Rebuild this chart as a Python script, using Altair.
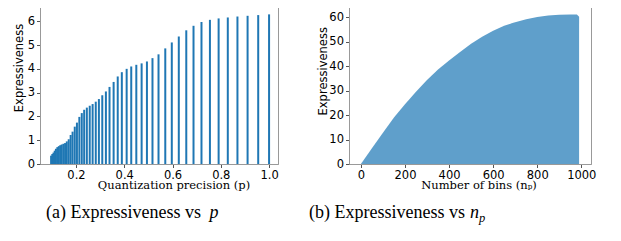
import altair as alt
import pandas as pd

# ---- panel (a): expressiveness vs quantization precision p ----
p_vals = [1.0, 0.955, 0.911, 0.869, 0.829, 0.791, 0.755, 0.72, 0.687, 0.657,
          0.626, 0.597, 0.570, 0.542, 0.517, 0.494, 0.472, 0.45, 0.429, 0.41,
          0.39, 0.373, 0.356, 0.339, 0.324, 0.309, 0.295, 0.282, 0.269, 0.257,
          0.245, 0.234, 0.224, 0.214, 0.204, 0.195, 0.186, 0.178, 0.170, 0.162,
          0.155, 0.148, 0.141, 0.135, 0.129, 0.123, 0.117, 0.112, 0.107, 0.102,
          0.097]
expr_a = [6.29, 6.26, 6.23, 6.20, 6.16, 6.12, 6.06, 5.97, 5.81, 5.62,
          5.36, 5.11, 4.86, 4.61, 4.45, 4.31, 4.23, 4.17, 4.10, 4.00,
          3.86, 3.68, 3.45, 3.24, 3.05, 2.89, 2.73, 2.62, 2.52, 2.45,
          2.37, 2.28, 2.14, 1.98, 1.74, 1.57, 1.36, 1.22, 1.04, 0.95,
          0.88, 0.85, 0.82, 0.79, 0.75, 0.71, 0.64, 0.56, 0.48, 0.42,
          0.35]

# ---- panel (b): expressiveness vs number of bins ----
bins = [0, 50, 100, 150, 200, 250, 300, 350, 400, 450, 500, 550, 600, 650,
        700, 750, 800, 850, 900, 950, 980, 990]
expr_b = [0, 6.5, 12.8, 19, 24.5, 29.6, 34.4, 38.7, 42.4, 45.9, 49.2, 52.1, 54.6,
          56.6, 58.1, 59.3, 60.2, 60.8, 61.1, 61.2, 61.2, 60.3]

x_ticks_a = [0.2, 0.4, 0.6, 0.8, 1.0]
y_ticks_a = [0, 1, 2, 3, 4, 5, 6]
x_ticks_b = [0, 200, 400, 600, 800, 1000]
y_ticks_b = [0, 10, 20, 30, 40, 50, 60]

caption_a = ["(a) Expressiveness vs", "p"]
caption_b = ["(b) Expressiveness vs", "n", "p"]

df_a = pd.DataFrame({"p": p_vals, "e": expr_a})
df_b = pd.DataFrame({"n": bins, "e": expr_b})

W_A, W_B, H = 238, 242, 157

axis_common = dict(
    grid=False, domainColor="#999999", tickColor="#555555", tickSize=3.5,
    labelFont="DejaVu Sans", labelFontSize=11.5, labelColor="#000000",
    labelPadding=2, titleFontSize=11.5,
    titleFontWeight="normal", titleColor="#000000",
)

cap_font = "Liberation Serif"
cap_size = 18


def caption(txt, x, y, size=cap_size, italic=False, align="left"):
    # one datum only, so the text is drawn exactly once
    one = pd.DataFrame({"t": [txt]})
    kw = dict(font=cap_font, fontSize=size, fontWeight="normal",
              align=align, baseline="alphabetic", fill="#000000")
    if italic:
        kw["fontStyle"] = "italic"
    return alt.Chart(one).mark_text(**kw).encode(
        text="t:N", x=alt.value(x), y=alt.value(y))


bars_a = alt.Chart(df_a).mark_rule(color="#1f77b4", strokeWidth=2).encode(
    x=alt.X("p:Q", scale=alt.Scale(domain=[0.051, 1.037], nice=False, zero=False),
            axis=alt.Axis(values=x_ticks_a, format=".1f",
                          title="Quantization precision (p)", titleFont="DejaVu Serif",
                          titleX=133.5, titleY=24.5, titleBaseline="alphabetic",
                          **axis_common)),
    y=alt.Y("e:Q", scale=alt.Scale(domain=[0, 6.6], nice=False),
            axis=alt.Axis(values=y_ticks_a, format="d", title="Expressiveness",
                          titleFont="DejaVu Sans",
                          titleX=-21, titleY=60.5, titleBaseline="middle",
                          **axis_common)),
    y2=alt.datum(0),
)

panel_a = alt.layer(
    bars_a,
    caption(caption_a[0], 161, 211, align="right"),
    caption(caption_a[1], 169.5, 211, italic=True),
).properties(width=W_A, height=H)

area_b = alt.Chart(df_b).mark_area(color="#5f9fcb", opacity=1).encode(
    x=alt.X("n:Q", scale=alt.Scale(domain=[-54, 1044], nice=False, zero=False),
            axis=alt.Axis(values=x_ticks_b, format="d",
                          title="Number of bins (nₚ)", titleFont="DejaVu Serif",
                          titleX=129.5, titleY=24.5, titleBaseline="alphabetic",
                          **axis_common)),
    y=alt.Y("e:Q", scale=alt.Scale(domain=[0, 64.3], nice=False),
            axis=alt.Axis(values=y_ticks_b, format="d", title="Expressiveness",
                          titleFont="DejaVu Sans",
                          titleX=-26, titleY=63.8, titleBaseline="middle",
                          **axis_common)),
)

panel_b = alt.layer(
    area_b,
    caption(caption_b[0], -40, 211),
    caption(caption_b[1], 121, 211, italic=True),
    caption(caption_b[2], 130, 215, size=12.5, italic=True),
).properties(width=W_B, height=H)

chart = alt.hconcat(panel_a, panel_b, spacing=29).properties(
    padding={"left": 4, "top": -2, "right": 0, "bottom": 0},
    background="white",
).configure_view(stroke="#999999", strokeWidth=1)

chart.save("out.html", embed_options={"renderer": "svg", "actions": False})
